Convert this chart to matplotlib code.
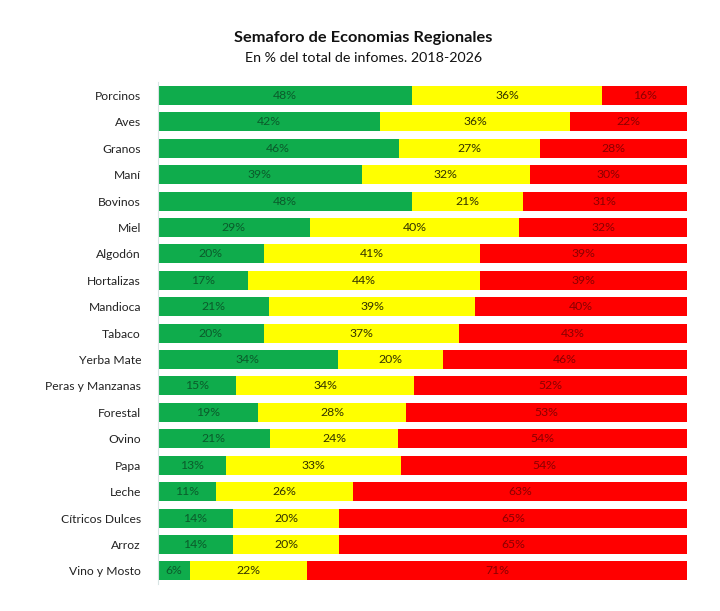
import numpy as np
import matplotlib.pyplot as plt

plt.rcParams['font.family'] = ['Lato', 'DejaVu Sans']

categorias = ["Porcinos", "Aves", "Granos", "Maní", "Bovinos", "Miel", "Algodón",
              "Hortalizas", "Mandioca", "Tabaco", "Yerba Mate", "Peras y Manzanas",
              "Forestal", "Ovino", "Papa", "Leche", "Cítricos Dulces", "Arroz",
              "Vino y Mosto"]
verde = [48, 42, 46, 39, 48, 29, 20, 17, 21, 20, 34, 15, 19, 21, 13, 11, 14, 14, 6]
amarillo = [36, 36, 27, 32, 21, 40, 41, 44, 39, 37, 20, 34, 28, 24, 33, 26, 20, 20, 22]
rojo = [16, 22, 28, 30, 31, 32, 39, 39, 40, 43, 46, 52, 53, 54, 54, 63, 65, 65, 71]

series = [
    (verde, "#0fac4c", "#0b5b2b"),
    (amarillo, "#ffff00", "#333300"),
    (rojo, "#ff0000", "#8b0000"),
]

v = np.array([verde, amarillo, rojo], dtype=float)
total = v.sum(axis=0)
pct = v / total * 100  # barras 100% apiladas

fig = plt.figure(figsize=(7.2, 6.11), dpi=100)
ax = fig.add_axes([0.219, 0.044, 0.735, 0.8216])

y = np.arange(len(categorias))
left = np.zeros(len(categorias))
for i, (vals, col, tcol) in enumerate(series):
    ax.barh(y, pct[i], left=left, height=0.72, color=col, edgecolor="none")
    for j, val in enumerate(vals):
        ax.text(left[j] + pct[i][j] / 2, y[j], f"{val}%", ha="center", va="center",
                fontsize=8.8, color=tcol)
    left = left + pct[i]

ax.set_xlim(0, 100)
ax.set_ylim(len(categorias) - 0.5, -0.5)
ax.set_yticks(y)
ax.set_yticklabels(categorias, fontsize=8.7, color="#222222")
ax.tick_params(axis="y", length=0, pad=12)
ax.set_xticks([])
for s in ["top", "right", "bottom"]:
    ax.spines[s].set_visible(False)
ax.spines["left"].set_color("#d8e4e4")

fig.text(0.505, 0.937, "Semaforo de Economias Regionales", ha="center", va="center",
         fontsize=11.8, fontweight="bold", color="#111111")
fig.text(0.505, 0.905, "En % del total de infomes. 2018-2026", ha="center", va="center",
         fontsize=10.3, color="#111111")

fig.savefig("out.png", dpi=100, facecolor="white")
